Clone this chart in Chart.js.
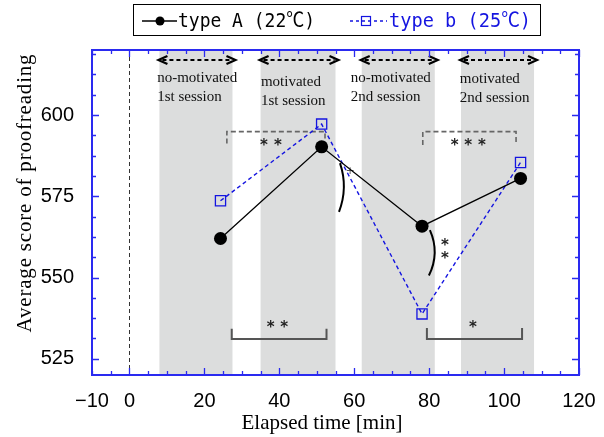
<!DOCTYPE html>
<html>
<head>
<meta charset="utf-8">
<script src="https://cdn.jsdelivr.net/npm/chart.js@4/dist/chart.umd.min.js"></script>
<style>
  html, body { margin: 0; padding: 0; background: #fff; }
  #wrap { width: 604px; height: 437px; }
</style>
</head>
<body>
<div id="wrap"><canvas id="chart" width="604" height="437"></canvas></div>
<script>
// data
const times = [24.3, 51.3, 78.1, 104.4];
const scoreA = [562, 590.2, 565.8, 580.5];
const scoreB = [573.6, 597.2, 538.8, 585.4];
const labelA = 'type A (22℃)';
const labelB = 'type b (25℃)';

const xTicks = [-10, 0, 20, 40, 60, 80, 100, 120];
const yTicks = [525, 550, 575, 600];

// sessions (gray bands)
const sessionStart = [8, 35, 62, 88.5];
const sessionEnd = [27.5, 55, 81.5, 108];
const sessionLine1 = ['no-motivated', 'motivated', 'no-motivated', 'motivated'];
const sessionLine2 = ['1st session', '1st session', '2nd session', '2nd session'];
const sessionTextX = [7.4, 35.1, 59.1, 88.2];
const sessionTextY1 = [611.4, 610.2, 611.4, 611.0];
const sessionTextY2 = [605.5, 604.3, 605.4, 605.3];

// significance brackets
const topBrackets = [
  { x1: 26, x2: 52.2, y: 594.9, leg: 591.2, stars: [[35.9, 591.4], [39.6, 591.4]] },
  { x1: 78.3, x2: 103.2, y: 594.9, leg: 590.8, stars: [[86.8, 591.2], [90.4, 591.2], [94.1, 591.2]] }
];
const bottomBrackets = [
  { x1: 27.3, x2: 52.6, y: 531.1, leg: 534.2, stars: [[37.7, 535.4], [41.3, 535.4]] },
  { x1: 79.4, x2: 104.8, y: 531.1, leg: 534.5, stars: [[91.7, 535.4]] }
];
const curves = [
  { x: 56.2, cx: 58.4, y1: 585.2, y2: 570.2 },
  { x: 80.2, cx: 82.9, y1: 564.6, y2: 550.6 }
];
const sideStars = [[84.2, 560.7], [84.2, 556.6]];
const plusMark = [58.9, 582.8];

const BLUE = '#1414e0';
const AXIS_BLUE = '#2a2af0';

function drawStar(ctx, px, py) {
  ctx.save();
  ctx.fillStyle = '#222';
  ctx.font = 'bold 15px "DejaVu Sans"';
  ctx.textAlign = 'center';
  ctx.textBaseline = 'middle';
  ctx.fillText('*', px, py + 3);
  ctx.restore();
}

function arrowHead(ctx, x, y, dir) {
  ctx.beginPath();
  ctx.moveTo(x + dir * 9, y - 4);
  ctx.lineTo(x, y);
  ctx.lineTo(x + dir * 9, y + 4);
  ctx.stroke();
}

const decor = {
  id: 'decor',
  beforeDatasetsDraw(chart) {
    const { ctx, chartArea: a, scales: { x, y } } = chart;
    ctx.save();
    // bands
    ctx.fillStyle = '#dcdddd';
    sessionStart.forEach((s, i) => {
      const l = x.getPixelForValue(s), r = x.getPixelForValue(sessionEnd[i]);
      ctx.fillRect(l, a.top, r - l, a.bottom - a.top);
    });
    // dashed line at t = 0
    ctx.strokeStyle = '#333';
    ctx.lineWidth = 1;
    ctx.setLineDash([4, 3]);
    const x0 = Math.round(x.getPixelForValue(0)) + 0.5;
    ctx.beginPath(); ctx.moveTo(x0, a.top); ctx.lineTo(x0, a.bottom); ctx.stroke();

    // session arrows + text
    const ay = y.getPixelForValue(616.9);
    sessionStart.forEach((s, i) => {
      const l = x.getPixelForValue(s) - 1, r = x.getPixelForValue(sessionEnd[i]) + 3;
      ctx.strokeStyle = '#000';
      ctx.lineWidth = 2;
      ctx.setLineDash([4, 3]);
      ctx.beginPath(); ctx.moveTo(l + 4, ay); ctx.lineTo(r - 4, ay); ctx.stroke();
      ctx.setLineDash([]);
      ctx.lineWidth = 2.2;
      arrowHead(ctx, l, ay, 1);
      arrowHead(ctx, r, ay, -1);
      ctx.fillStyle = '#111';
      ctx.font = '15px "Liberation Serif"';
      ctx.textAlign = 'left';
      ctx.textBaseline = 'middle';
      const tx = x.getPixelForValue(sessionTextX[i]);
      ctx.fillText(sessionLine1[i], tx, y.getPixelForValue(sessionTextY1[i]));
      ctx.fillText(sessionLine2[i], tx, y.getPixelForValue(sessionTextY2[i]));
    });

    // brackets
    ctx.strokeStyle = '#666';
    ctx.lineWidth = 1.6;
    ctx.setLineDash([5, 3]);
    topBrackets.forEach(b => {
      const l = x.getPixelForValue(b.x1), r = x.getPixelForValue(b.x2);
      const yt = y.getPixelForValue(b.y), yl = y.getPixelForValue(b.leg);
      ctx.beginPath();
      ctx.moveTo(l, yl); ctx.lineTo(l, yt); ctx.lineTo(r, yt); ctx.lineTo(r, yl);
      ctx.stroke();
    });
    ctx.setLineDash([]);
    ctx.strokeStyle = '#555';
    ctx.lineWidth = 2;
    bottomBrackets.forEach(b => {
      const l = x.getPixelForValue(b.x1), r = x.getPixelForValue(b.x2);
      const yb = y.getPixelForValue(b.y), yl = y.getPixelForValue(b.leg);
      ctx.beginPath();
      ctx.moveTo(l, yl); ctx.lineTo(l, yb); ctx.lineTo(r, yb); ctx.lineTo(r, yl);
      ctx.stroke();
    });
    topBrackets.concat(bottomBrackets).forEach(b => {
      b.stars.forEach(st => drawStar(ctx, x.getPixelForValue(st[0]), y.getPixelForValue(st[1])));
    });
    sideStars.forEach(st => drawStar(ctx, x.getPixelForValue(st[0]), y.getPixelForValue(st[1])));

    // curved marks
    ctx.strokeStyle = '#000';
    ctx.lineWidth = 2;
    curves.forEach(c => {
      const px = x.getPixelForValue(c.x), cx = x.getPixelForValue(c.cx);
      const p1 = y.getPixelForValue(c.y1), p2 = y.getPixelForValue(c.y2);
      ctx.beginPath();
      ctx.moveTo(px, p1);
      ctx.quadraticCurveTo(cx, (p1 + p2) / 2, px - 1, p2);
      ctx.stroke();
    });
    ctx.fillStyle = '#555';
    ctx.font = '11px "DejaVu Sans"';
    ctx.textAlign = 'center';
    ctx.textBaseline = 'middle';
    ctx.fillText('+', x.getPixelForValue(plusMark[0]), y.getPixelForValue(plusMark[1]));
    ctx.restore();
  },
  afterDraw(chart) {
    const { ctx, chartArea: a, scales: { x, y } } = chart;
    ctx.save();
    // inward ticks
    ctx.strokeStyle = AXIS_BLUE;
    ctx.lineWidth = 1.3;
    ctx.beginPath();
    for (let v = -10; v <= 120; v += 5) {
      const px = Math.round(x.getPixelForValue(v)) + 0.5;
      const len = v % 20 === 0 ? 7 : 4;
      ctx.moveTo(px, a.bottom); ctx.lineTo(px, a.bottom - len);
      ctx.moveTo(px, a.top); ctx.lineTo(px, a.top + len);
    }
    for (let v = 525; v <= 620; v += 6.25) {
      const py = Math.round(y.getPixelForValue(v)) + 0.5;
      const len = (v - 525) % 25 === 0 ? 7 : 4;
      ctx.moveTo(a.left, py); ctx.lineTo(a.left + len, py);
      ctx.moveTo(a.right, py); ctx.lineTo(a.right - len, py);
    }
    ctx.stroke();
    // frame
    ctx.lineWidth = 2;
    ctx.strokeRect(a.left, a.top, a.right - a.left, a.bottom - a.top);

    // axis titles
    ctx.fillStyle = '#000';
    ctx.font = '21px "Liberation Serif"';
    ctx.textAlign = 'center';
    ctx.textBaseline = 'middle';
    ctx.fillText('Elapsed time [min]', 322, 423);
    ctx.save();
    ctx.translate(25, 193);
    ctx.rotate(-Math.PI / 2);
    ctx.letterSpacing = '0.8px';
    ctx.fillText('Average score of proofreading', 0, 0);
    ctx.restore();

    // legend
    ctx.strokeStyle = '#000';
    ctx.lineWidth = 1;
    ctx.strokeRect(133.5, 4.5, 407, 31);
    ctx.lineWidth = 1.5;
    ctx.beginPath(); ctx.moveTo(142, 21); ctx.lineTo(177, 21); ctx.stroke();
    ctx.fillStyle = '#000';
    ctx.beginPath(); ctx.arc(160, 21, 4.5, 0, Math.PI * 2); ctx.fill();
    ctx.strokeStyle = BLUE;
    ctx.setLineDash([3, 3]);
    ctx.beginPath(); ctx.moveTo(350, 21); ctx.lineTo(387, 21); ctx.stroke();
    ctx.setLineDash([]);
    ctx.lineWidth = 1.2;
    ctx.strokeRect(361.5, 16.5, 9, 9);
    ctx.font = '20px "DejaVu Sans Mono", "Noto Sans CJK JP"';
    ctx.textAlign = 'left';
    ctx.fillStyle = '#000';
    ctx.fillText(labelA, 178, 22, 137);
    ctx.fillStyle = BLUE;
    ctx.fillText(labelB, 389, 22, 142);
    ctx.restore();
  }
};

new Chart(document.getElementById('chart'), {
  type: 'scatter',
  data: {
    datasets: [
      {
        label: labelA,
        data: times.map((t, i) => ({ x: t, y: scoreA[i] })),
        showLine: true,
        borderColor: '#000',
        borderWidth: 1.3,
        backgroundColor: '#000',
        pointRadius: 6.5,
        pointBorderWidth: 0,
        pointStyle: 'circle'
      },
      {
        label: labelB,
        data: times.map((t, i) => ({ x: t, y: scoreB[i] })),
        showLine: true,
        borderColor: BLUE,
        borderWidth: 1.4,
        borderDash: [4, 3],
        backgroundColor: 'rgba(0,0,0,0)',
        pointBorderColor: BLUE,
        pointBorderWidth: 1.3,
        pointRadius: 7.2,
        pointStyle: 'rect'
      }
    ]
  },
  options: {
    responsive: false,
    animation: false,
    events: [],
    layout: { padding: { left: 0, top: 50, right: 25, bottom: 0 } },
    plugins: { legend: { display: false }, tooltip: { enabled: false } },
    scales: {
      x: {
        type: 'linear',
        min: -10, max: 120,
        grid: { display: false },
        border: { display: false },
        afterBuildTicks: s => { s.ticks = xTicks.map(v => ({ value: v })); },
        afterFit: s => { s.height = 62; },
        ticks: {
          autoSkip: false,
          maxRotation: 0,
          padding: 6,
          color: '#000',
          font: { family: '"Liberation Sans"', size: 20 },
          callback: v => v < 0 ? '\u2212' + Math.abs(v) : String(v)
        }
      },
      y: {
        type: 'linear',
        min: 520, max: 620,
        grid: { display: false },
        border: { display: false },
        afterBuildTicks: s => { s.ticks = yTicks.map(v => ({ value: v })); },
        afterFit: s => { s.width = 92; },
        ticks: {
          autoSkip: false,
          padding: 10,
          color: '#000',
          font: { family: '"Liberation Sans"', size: 20 }
        }
      }
    }
  },
  plugins: [decor]
});
</script>
</body>
</html>
